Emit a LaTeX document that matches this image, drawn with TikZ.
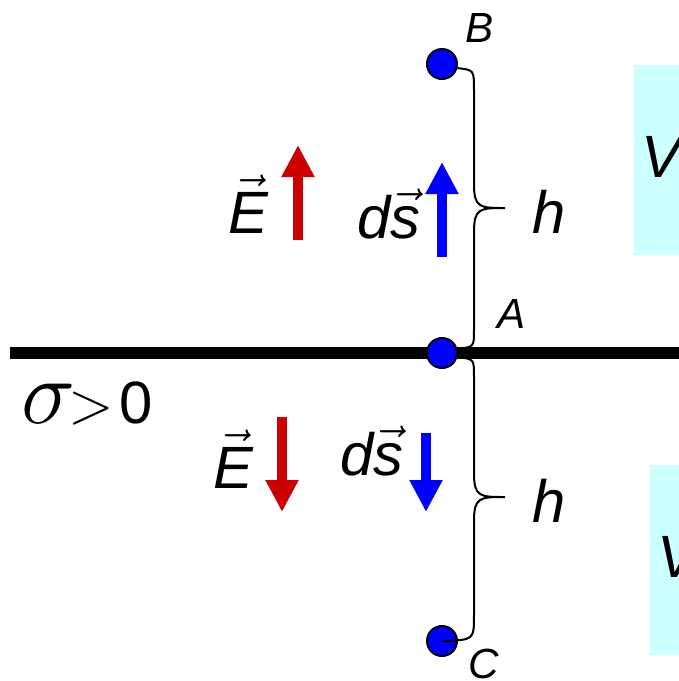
\RequirePackage{fix-cm}
\documentclass[tikz,border=0pt]{standalone}
\usepackage{fontspec}
\setmainfont{Liberation Sans}
\usetikzlibrary{arrows.meta}

\definecolor{darkred}{RGB}{204,0,0}
\definecolor{paleblue}{RGB}{204,255,255}

\begin{document}
\begin{tikzpicture}[x=0.02cm, y=-0.02cm,
  dot/.style={circle, draw=black, line width=0.04cm, fill=blue, minimum size=0.6cm, inner sep=0},
  fat/.style={line width=0.22cm, -{Triangle[width=0.62cm, length=0.64cm]}},
  big/.style={inner sep=0, anchor=base west, font=\fontsize{34}{40}\selectfont\itshape},
  small/.style={inner sep=0, anchor=base west, font=\fontsize{24}{28}\selectfont\itshape},
  brace/.style={line width=0.04cm}
]
\clip (0,0) rectangle (679,681);

% potential boxes on the right
\fill[paleblue] (634,65) rectangle (700,255);
\fill[paleblue] (650,465) rectangle (700,655);
\node[big] (VB) at (641,177) {V\textsubscript{B}};
\node[big] (VC) at (657,577) {V\textsubscript{C}};

% charged sheet
\draw[line width=0.24cm] (10,353) -- (679,353);
\node[big, font=\fontsize{34}{40}\selectfont] (sig) at (21,423)
  {{\fontsize{52}{58}\selectfont$\sigma$}\kern-0.12em$>$\kern0.1em0};

% points
\node[dot] (B) at (442,64) {};
\node[dot] (A) at (442,353) {};
\node[dot] (C) at (442,641) {};
\node[small] (lB) at (465,42) {B};
\node[small] (lA) at (497,328) {A};
\node[small] (lC) at (468,678) {C};

% braces
\draw[brace] (B.-15) .. controls (474,70) .. (474,90) -- (474,184)
  .. controls (474,208) and (480,208) .. (505,208)
  .. controls (480,208) and (474,208) .. (474,232) -- (474,330)
  .. controls (474,347) .. (A.15);
\draw[brace] (A.-15) .. controls (474,359) .. (474,376) -- (474,473)
  .. controls (474,497) and (480,497) .. (505,497)
  .. controls (480,497) and (474,497) .. (474,521) -- (474,615)
  .. controls (474,640) .. (C.center);
\node[big] (h1) at (532,233) {h};
\node[big] (h2) at (532,522) {h};

% field and path element above
\draw[fat, darkred] (298,240) -- (298,145);
\draw[fat, blue] (442,257) -- (442,162);
\node[big] (E1) at (228,233) {$\vec{\textit{E}}$};
\node[big] (ds1) at (357,238) {d$\vec{\textit{s}}$};

% field and path element below
\draw[fat, darkred] (282,417) -- (282,512);
\draw[fat, blue] (426,433) -- (426,512);
\node[big] (E2) at (213,488) {$\vec{\textit{E}}$};
\node[big] (ds2) at (340,475) {d$\vec{\textit{s}}$};
\end{tikzpicture}
\end{document}
